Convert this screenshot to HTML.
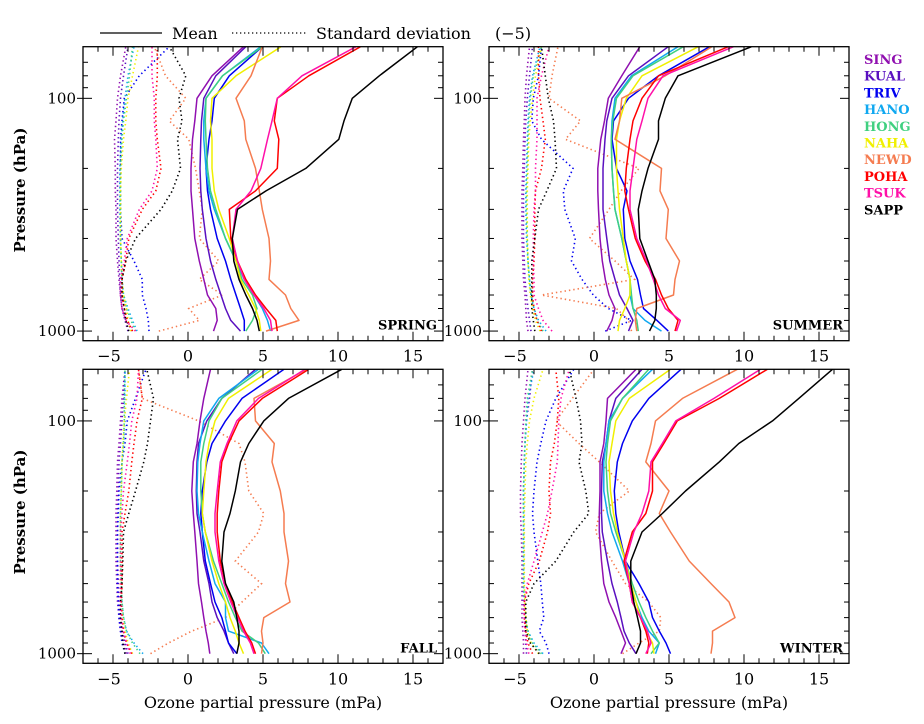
<!DOCTYPE html>
<html><head><meta charset="utf-8"><style>
html,body{margin:0;padding:0;background:#fff;}
svg{display:block;font-family:"DejaVu Serif","Liberation Serif",serif;}
</style></head><body>
<svg id="chart" width="924" height="724" viewBox="0 0 924 724" xmlns="http://www.w3.org/2000/svg">
<g>
<line x1="100" y1="33" x2="162" y2="33" stroke="#000" stroke-width="1.3"/>
<text x="172" y="39" font-size="16">Mean</text>
<line x1="232" y1="33" x2="308" y2="33" stroke="#000" stroke-width="1.3" stroke-dasharray="1.3 2.7"/>
<text x="316" y="39" font-size="16">Standard deviation</text>
<text x="495" y="39" font-size="16">(−5)</text>
</g>
<g id="stations"></g>
<g id="panels"></g>
<text transform="translate(25,190) rotate(-90)" text-anchor="middle" font-size="15" font-weight="bold">Pressure (hPa)</text>
<text transform="translate(25,512) rotate(-90)" text-anchor="middle" font-size="15" font-weight="bold">Pressure (hPa)</text>
<text x="263" y="708" text-anchor="middle" font-size="16">Ozone partial pressure (mPa)</text>
<text x="669" y="708" text-anchor="middle" font-size="16">Ozone partial pressure (mPa)</text>
</svg>
<script>
const stations = ["SING","KUAL","TRIV","HANO","HONG","NAHA","NEWD","POHA","TSUK","SAPP"];
const colors = ["#9010b0","#5a10c0","#0000f0","#10a8f0","#40d080","#f0f000","#f57c50","#ff0000","#ff10a8","#000000"];
const levels = [1000,900,800,700,600,500,400,300,250,200,150,125,100,80,60];
const seasons = ["SPRING","SUMMER","FALL","WINTER"];
const xTicks = [-5,0,5,10,15];
const yTicks = [100,1000];

const springMean = [
[1.7,1.95,1.85,1.3,1.05,0.75,0.45,0.3,0.2,0.2,0.3,0.45,0.6,1.6,3.7],
[3.5,2.85,2.5,2.2,1.85,1.5,1.2,0.95,0.85,0.8,0.85,0.9,1.05,1.85,3.85],
[3.75,3.75,3.5,3.2,2.85,2.5,1.95,1.5,1.3,1.2,1.4,1.6,1.75,2.75,4.95],
[5.5,5.3,4.95,4.4,3.75,3.2,2.5,1.75,1.4,1.2,1.05,1.05,1.2,2.3,4.85],
[3.85,4.3,4.6,4.3,3.6,3.2,2.5,1.85,1.5,1.3,1.2,1.15,1.2,2.3,4.95],
[4.85,4.75,4.5,4.05,3.5,3.2,2.75,2.05,1.75,1.6,1.6,1.5,1.6,3.2,6.2],
[5.2,7.4,6.85,6.5,5.4,5.5,5.4,4.95,4.75,4.5,3.85,3.75,3.2,4.2,4.95],
[5.95,5.85,5.2,4.5,3.85,3.3,2.85,2.75,4.5,5.95,6.05,5.75,5.95,8.05,11.5],
[5.6,5.5,5.05,4.4,3.75,3.3,2.95,3.2,4.2,4.85,5.3,5.6,5.95,7.6,11.2],
[4.75,4.6,4.3,3.85,3.4,3.05,2.95,3.3,5.2,7.85,10.05,10.4,10.95,12.75,15.3]];
const springStd = [
[1.3,0.85,0.6,0.5,0.4,0.3,0.2,0.2,0.15,0.15,0.1,0.2,0.3,0.5,0.85],
[1.0,0.8,0.6,0.5,0.45,0.4,0.35,0.3,0.3,0.3,0.35,0.4,0.5,0.7,1.0],
[2.4,2.35,2.2,1.95,1.95,1.4,0.6,0.5,0.5,0.5,0.5,0.6,0.75,1.75,3.75],
[1.6,1.3,1.0,0.7,0.6,0.55,0.5,0.45,0.45,0.45,0.55,0.65,0.8,1.0,1.4],
[1.5,1.2,0.9,0.7,0.6,0.55,0.5,0.5,0.5,0.5,0.6,0.7,0.9,1.1,1.3],
[1.2,1.0,0.9,0.7,0.6,0.55,0.5,0.5,0.5,0.55,0.7,0.85,1.0,1.3,1.7],
[3.05,5.75,5.05,7.3,5.75,7.05,5.75,5.95,5.75,5.5,5.05,3.75,4.85,3.5,2.75],
[1.3,0.95,0.75,0.6,0.6,0.85,1.05,1.95,2.85,3.2,2.95,2.85,2.85,2.95,2.95],
[1.5,0.85,0.6,0.5,0.5,0.75,0.95,1.75,2.6,2.95,2.85,2.75,2.75,2.6,2.6],
[1.05,0.85,0.75,0.6,0.6,0.85,1.5,3.2,3.95,4.5,4.3,4.6,4.4,4.85,3.75]];

const summerMean = [
[0.85,1.2,1.4,1.0,0.75,0.55,0.4,0.3,0.25,0.25,0.45,0.7,0.95,1.85,3.05],
[2.3,2.6,2.2,1.7,1.4,1.05,0.85,0.6,0.6,0.6,0.73,0.85,1.2,2.3,4.95],
[4.95,4.2,3.3,3.1,2.9,2.4,2.05,1.95,2.2,1.5,1.2,1.3,2.3,4.3,7.7],
[4.5,3.4,2.6,2.4,2.4,2.15,1.85,1.4,1.3,1.2,1.15,1.2,1.4,2.5,5.6],
[2.95,2.85,2.6,2.5,2.4,2.15,1.85,1.4,1.3,1.2,1.15,1.25,1.5,2.6,5.95],
[1.6,1.7,2.05,2.4,2.4,2.15,1.95,1.7,1.6,1.5,1.5,1.7,2.15,3.2,6.95],
[2.85,2.75,2.85,5.3,5.4,5.7,4.8,4.95,4.4,4.5,1.4,1.7,1.85,4.75,7.85],
[5.4,5.6,4.95,4.5,4.1,3.4,2.75,2.3,2.05,2.15,2.4,2.6,3.2,4.3,8.95],
[5.5,5.75,4.75,4.3,3.95,3.5,2.85,2.4,2.4,2.6,2.85,3.2,3.6,4.6,9.3],
[3.7,4.05,4.15,4.15,4.05,3.6,3.05,2.95,3.2,3.6,4.3,4.3,4.75,5.6,10.5]];
const summerStd = [
[0.6,0.5,0.45,0.4,0.3,0.25,0.2,0.2,0.2,0.25,0.3,0.35,0.4,0.5,0.7],
[0.8,0.7,0.6,0.5,0.4,0.35,0.3,0.3,0.3,0.35,0.4,0.45,0.55,0.7,0.9],
[5.75,7.5,5.95,4.95,4.2,3.5,3.75,3.05,2.95,3.6,1.5,0.85,0.95,1.3,1.5],
[1.8,1.3,1.0,0.8,0.7,0.6,0.5,0.45,0.45,0.5,0.55,0.6,0.7,0.9,1.4],
[1.6,1.2,1.0,0.8,0.7,0.6,0.55,0.5,0.5,0.55,0.6,0.65,0.75,0.95,1.5],
[1.4,1.1,0.9,0.75,0.65,0.6,0.55,0.55,0.55,0.6,0.65,0.75,0.9,1.1,1.5],
[7.5,7.3,6.5,1.5,7.7,6.4,4.7,6.0,6.8,8.0,3.1,4.1,2.0,2.2,2.6],
[1.5,1.2,1.0,0.9,0.9,1.0,1.05,1.05,1.1,1.5,1.75,1.6,1.4,1.3,1.3],
[2.2,1.6,1.3,1.0,1.0,0.95,0.95,1.0,1.1,1.1,1.2,1.2,1.2,1.5,2.0],
[1.05,0.95,0.85,0.85,0.85,0.85,1.05,1.3,1.85,2.5,2.4,2.3,1.95,1.75,1.5]];

const fallMean = [
[1.45,1.35,1.2,1.05,0.9,0.7,0.6,0.45,0.35,0.25,0.35,0.6,0.8,1.05,1.5],
[3.05,2.7,2.4,1.95,1.6,1.4,1.05,0.8,0.6,0.55,0.6,0.7,1.25,2.25,4.5],
[3.25,2.7,2.5,2.25,1.8,1.5,1.15,0.95,0.85,0.95,1.25,1.6,2.5,3.6,6.4],
[5.4,4.9,2.7,2.5,2.5,1.8,1.4,0.95,0.7,0.6,0.65,0.8,1.05,2.05,4.7],
[5.15,4.7,3.6,3.15,2.7,2.25,1.7,1.15,0.95,0.85,0.85,1.05,1.4,2.25,4.95],
[3.7,3.4,3.15,2.8,2.5,2.05,1.6,1.15,0.95,1.05,1.2,1.4,1.8,2.7,5.6],
[4.9,5.0,4.9,5.05,6.8,6.5,6.7,6.4,6.4,6.15,5.6,5.75,4.5,4.4,7.9],
[4.5,4.25,3.8,3.4,2.95,2.5,2.15,1.95,1.95,2.05,2.25,2.7,3.4,4.95,8.05],
[4.4,4.15,3.7,3.3,2.85,2.4,2.05,1.8,1.8,1.95,2.15,2.6,3.25,4.7,7.8],
[3.25,3.4,3.4,3.25,3.05,2.5,2.25,2.4,2.8,3.15,3.5,4.05,5.05,6.7,10.25]];
const fallStd = [
[0.9,0.7,0.5,0.4,0.3,0.25,0.2,0.2,0.2,0.25,0.3,0.4,0.5,0.6,0.8],
[1.0,0.8,0.6,0.5,0.4,0.35,0.3,0.3,0.3,0.35,0.4,0.5,0.6,0.7,0.8],
[0.8,0.6,0.5,0.4,0.35,0.3,0.3,0.3,0.35,0.4,0.6,0.8,0.95,1.5,2.2],
[2.0,1.4,0.9,0.7,0.6,0.55,0.5,0.5,0.5,0.55,0.6,0.7,0.8,0.8,0.8],
[1.8,1.3,0.9,0.7,0.6,0.55,0.5,0.5,0.5,0.55,0.6,0.7,0.75,0.75,0.8],
[1.3,1.0,0.8,0.65,0.55,0.5,0.5,0.5,0.5,0.55,0.6,0.65,0.75,0.9,1.1],
[2.5,3.7,5.25,7.5,8.6,9.9,8.15,9.7,10.05,9.05,8.8,8.4,5.7,1.95,1.7],
[1.25,0.9,0.7,0.6,0.55,0.6,0.6,0.6,0.8,1.05,1.25,1.4,1.6,1.95,1.7],
[1.15,0.9,0.7,0.55,0.5,0.5,0.5,0.5,0.6,0.7,0.95,1.1,1.25,1.6,1.7],
[0.8,0.65,0.6,0.5,0.5,0.6,0.65,0.7,1.05,1.5,2.05,2.3,2.5,2.7,2.25]];

const winterMean = [
[1.8,2.1,1.8,1.45,1.0,0.65,0.5,0.35,0.35,0.4,0.4,0.65,0.8,0.9,2.8],
[2.8,2.35,2.0,1.8,1.55,1.2,0.9,0.55,0.5,0.5,0.55,0.8,1.0,1.45,3.2],
[5.1,4.8,4.35,3.9,3.65,3.0,2.1,1.65,1.45,1.35,1.55,1.9,2.55,3.65,5.8],
[4.1,4.35,3.65,3.2,2.8,2.35,1.9,1.2,0.9,0.65,0.65,0.8,1.0,1.9,3.9],
[3.8,4.35,3.9,3.45,3.0,2.55,2.1,1.45,1.1,0.9,0.8,0.9,1.1,1.9,3.65],
[4.0,3.9,3.45,3.1,2.8,2.45,2.1,1.55,1.3,1.1,1.0,1.2,1.45,2.35,5.1],
[7.8,7.9,7.9,9.4,9.0,7.8,6.35,5.1,4.35,5.0,3.45,3.8,4.1,5.9,9.55],
[3.55,3.65,3.45,3.1,2.55,2.35,2.0,2.55,3.45,3.9,3.9,4.65,5.55,8.35,11.55],
[3.45,3.8,3.55,3.1,2.55,2.35,2.1,2.65,3.2,3.65,3.8,4.55,5.45,8.0,11.1],
[2.8,3.1,3.1,2.9,2.65,2.45,2.45,3.2,4.55,6.1,8.35,9.65,11.9,13.65,15.9]];
const winterStd = [
[0.3,0.3,0.25,0.2,0.2,0.2,0.2,0.15,0.1,0.1,0.15,0.2,0.3,0.4,0.6],
[0.5,0.45,0.4,0.35,0.3,0.3,0.3,0.3,0.3,0.3,0.35,0.4,0.5,0.7,0.9],
[2.0,1.8,1.35,1.65,1.55,1.45,1.25,1.0,0.9,1.0,1.2,1.45,1.8,2.45,3.65],
[1.6,1.0,0.6,0.4,0.35,0.3,0.3,0.3,0.3,0.3,0.35,0.4,0.5,0.6,1.0],
[1.5,0.9,0.6,0.45,0.35,0.3,0.3,0.3,0.3,0.3,0.35,0.4,0.45,0.55,0.9],
[1.3,0.8,0.55,0.45,0.4,0.35,0.35,0.35,0.35,0.4,0.45,0.55,0.7,1.0,1.6],
[6.9,8.0,9.35,9.45,8.65,7.1,6.2,5.1,5.35,7.35,5.35,4.0,2.45,3.55,5.0],
[0.9,0.6,0.45,0.35,0.35,0.65,1.35,1.9,2.1,2.0,2.1,2.35,2.55,2.65,2.45],
[0.65,0.5,0.4,0.35,0.35,0.55,1.0,1.55,1.9,2.2,2.55,2.6,2.65,2.8,3.35],
[1.35,0.75,0.45,0.45,0.45,1.0,2.45,3.65,4.65,4.45,4.0,4.2,4.1,3.8,3.35]];

const meanSets = [springMean, summerMean, fallMean, winterMean];
const stdSets = [springStd, summerStd, fallStd, winterStd];

const NS = "http://www.w3.org/2000/svg";
const svg = document.getElementById("chart");
const panelsG = document.getElementById("panels");
const W = 360, H = 294, XMIN = -7, XMAX = 17, PTOP = 60, PBOT = 1100;
const origins = [[83,46.7],[489,46.7],[83,369.3],[489,369.3]];
const defs = document.createElementNS(NS, "defs");
svg.insertBefore(defs, svg.firstChild);

function mk(tag, attrs, parent) {
  const e = document.createElementNS(NS, tag);
  for (const k in attrs) e.setAttribute(k, attrs[k]);
  parent.appendChild(e);
  return e;
}

seasons.forEach((season, si) => {
  const [ox, oy] = origins[si];
  const xs = v => ox + (v - XMIN) / (XMAX - XMIN) * W;
  const ys = p => oy + Math.log10(p / PTOP) / Math.log10(PBOT / PTOP) * H;
  const g = document.createElementNS(NS, "g");
  
  
  panelsG.appendChild(g);

  const cp = mk("clipPath", {id: "clip" + si}, defs);
  mk("rect", {x: ox, y: oy, width: W, height: H}, cp);

  const series = document.createElementNS(NS, "g");
  series.setAttribute("clip-path", "url(#clip" + si + ")");
  
  
  g.appendChild(series);

  stations.forEach((st, k) => {
    const d = levels.map((p, i) => (i ? "L" : "M") + xs(stdSets[si][k][i] - 5).toFixed(1) + "," + ys(p).toFixed(1)).join("");
    const path = mk("path", {d: d, fill: "none", stroke: colors[k], "stroke-width": 1.6, "stroke-dasharray": "1.4 3", "stroke-linecap": "butt"}, series);
    
    
  });
  stations.forEach((st, k) => {
    const d = levels.map((p, i) => (i ? "L" : "M") + xs(meanSets[si][k][i]).toFixed(1) + "," + ys(p).toFixed(1)).join("");
    const path = mk("path", {d: d, fill: "none", stroke: colors[k], "stroke-width": 1.5, "stroke-linejoin": "round"}, series);
    
    
  });

  const frame = mk("rect", {x: ox, y: oy, width: W, height: H, fill: "none", stroke: "#000", "stroke-width": 1.3}, g);
  
  

  const ticksG = mk("g", {stroke: "#000", "stroke-width": 1}, g);
  
  
  for (let v = XMIN + 1; v < XMAX; v++) {
    const len = (v % 5 === 0) ? 9 : 5;
    const x = xs(v);
    mk("line", {x1: x, y1: oy + H, x2: x, y2: oy + H - len}, ticksG);
    mk("line", {x1: x, y1: oy, x2: x, y2: oy + len}, ticksG);
  }
  const minorP = [70,80,90,200,300,400,500,600,700,800,900];
  minorP.forEach(p => {
    const y = ys(p);
    mk("line", {x1: ox, y1: y, x2: ox + 5, y2: y}, ticksG);
    mk("line", {x1: ox + W, y1: y, x2: ox + W - 5, y2: y}, ticksG);
  });
  yTicks.forEach(p => {
    const y = ys(p);
    mk("line", {x1: ox - 6, y1: y, x2: ox + 9, y2: y}, ticksG);
    mk("line", {x1: ox + W, y1: y, x2: ox + W - 9, y2: y}, ticksG);
    const t = mk("text", {x: ox - 7, y: y + 5, "text-anchor": "end", "font-size": 15}, g);
    t.textContent = p;
    
    
  });
  xTicks.forEach(v => {
    const t = mk("text", {x: xs(v) - (v < 0 ? 4 : 0), y: oy + H + 21, "text-anchor": "middle", "font-size": 16}, g);
    t.textContent = v < 0 ? "−" + Math.abs(v) : String(v);
    
    
  });
  const lab = mk("text", {x: ox + W - 6, y: oy + H - 11, "text-anchor": "end", "font-size": 13, "font-weight": "bold"}, g);
  lab.textContent = season;
  
  
});

const stG = document.getElementById("stations");
stations.forEach((st, k) => {
  const t = mk("text", {x: 864, y: 64 + k * 16.7, "font-size": 13, "font-weight": "bold", fill: colors[k]}, stG);
  t.textContent = st;
  
  
});
</script>
</body></html>
